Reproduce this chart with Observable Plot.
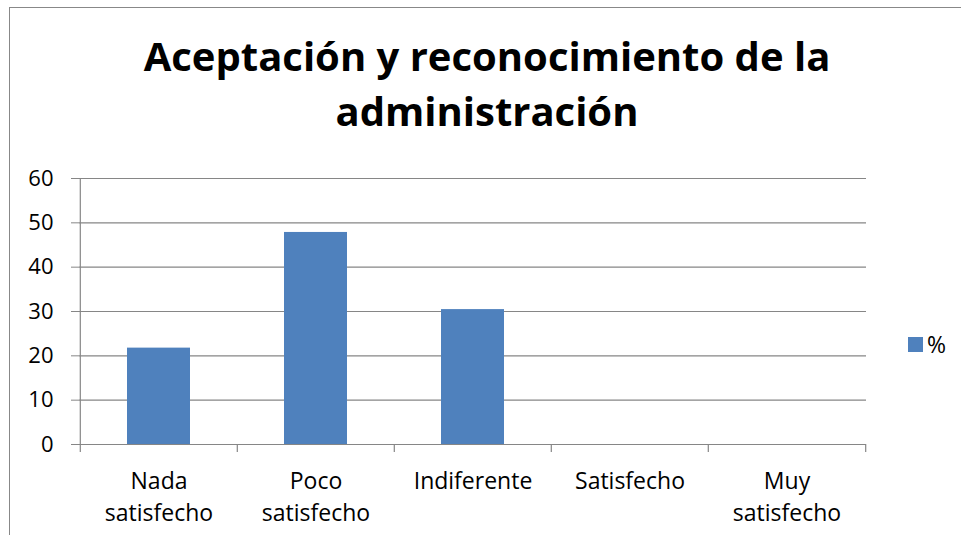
<!DOCTYPE html>
<html>
<head>
<meta charset="utf-8">
<script src="https://cdn.jsdelivr.net/npm/d3@7"></script>
<script src="https://cdn.jsdelivr.net/npm/@observablehq/plot@0.6"></script>
<style>
  body { margin: 0; background: #fff; }
  #wrap { position: relative; width: 961px; height: 535px; overflow: hidden; font-family: "Open Sans", sans-serif; }
  #frame { position: absolute; left: 9px; top: 7px; width: 1000px; height: 600px; border-top: 1px solid #888; border-left: 1px solid #888; box-sizing: border-box; }
  #title { position: absolute; left: 9px; width: 956px; top: 28px; text-align: center; font-weight: 700; font-size: 40px; line-height: 55px; color: #000; }
  #legend { position: absolute; left: 908px; top: 328px; font-size: 23px; color: #000; display: flex; align-items: center; }
  #legend .sw { width: 15px; height: 15px; background: #4F81BD; margin-right: 4px; }
  #chart { position: absolute; left: 0; top: 0; }
</style>
</head>
<body>
<div id="wrap">
  <div id="chart"></div>
  <div id="frame"></div>
  <div id="title"></div>
  <div id="legend"></div>
</div>
<script>
const titleLines = ["Aceptación y reconocimiento de la", "administración"];
const categories = ["Nada satisfecho", "Poco satisfecho", "Indiferente", "Satisfecho", "Muy satisfecho"];
const tickLabels = ["Nada\nsatisfecho", "Poco\nsatisfecho", "Indiferente", "Satisfecho", "Muy\nsatisfecho"];
const values = [21.74, 47.83, 30.43, 0, 0];
const seriesName = "%";
const yTicks = [0, 10, 20, 30, 40, 50, 60];

const W = 961, H = 535, ML = 79, MR = 95, MT = 178, MB = 91;
const step = (W - ML - MR) / categories.length;
const data = categories.map((c, i) => ({cat: c, val: values[i]}));
const labelOf = new Map(categories.map((c, i) => [c, tickLabels[i]]));
const axisColor = "#868686";

const chart = Plot.plot({
  width: W, height: H,
  marginLeft: ML, marginRight: MR, marginTop: MT, marginBottom: MB,
  style: {fontFamily: "'Open Sans', sans-serif", fontSize: "22px", color: "#000", background: "transparent"},
  x: {domain: categories, paddingInner: 0.6, paddingOuter: 0.3, align: 0.5, label: null},
  y: {domain: [yTicks[0], yTicks[yTicks.length - 1]], label: null},
  marks: [
    Plot.gridY(yTicks, {stroke: axisColor, strokeOpacity: 1, strokeWidth: 1.2}),
    Plot.barY(data, {x: "cat", y: "val", fill: "#4F81BD"}),
    Plot.ruleY([yTicks[0]], {stroke: axisColor, strokeWidth: 1.2}),
    Plot.ruleX([categories[0]], {x: d => d, y1: yTicks[0], y2: yTicks[yTicks.length - 1], dx: -step / 2, stroke: axisColor, strokeWidth: 1.2}),
    Plot.ruleX(categories, {x: d => d, y1: yTicks[0], y2: yTicks[0], insetBottom: -8, dx: -step / 2, stroke: axisColor, strokeWidth: 1.2}),
    Plot.ruleX([categories[categories.length - 1]], {x: d => d, y1: yTicks[0], y2: yTicks[0], insetBottom: -8, dx: step / 2, stroke: axisColor, strokeWidth: 1.2}),
    Plot.axisY({ticks: yTicks, tickSize: 8, tickPadding: 18, fontSize: 22, stroke: axisColor, strokeOpacity: 1, fill: "#000", label: null}),
    Plot.axisX({tickSize: 0, tickPadding: 22, fontSize: 23, lineHeight: 1.39, tickFormat: d => labelOf.get(d), fill: "#000", label: null})
  ]
});
document.getElementById("chart").appendChild(chart);

document.getElementById("title").innerHTML = titleLines.map(t => `<div>${t}</div>`).join("");
document.getElementById("legend").innerHTML = `<div class="sw"></div><span>${seriesName}</span>`;
</script>
</body>
</html>
